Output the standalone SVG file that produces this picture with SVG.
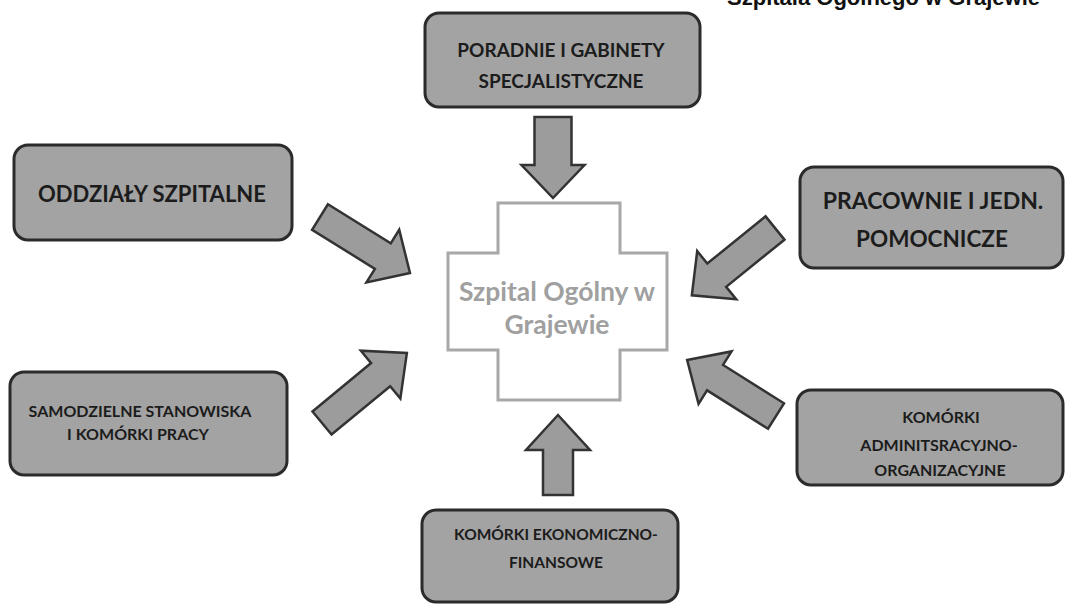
<svg xmlns="http://www.w3.org/2000/svg" width="1065" height="604" viewBox="0 0 1065 604">
<style>
.box{fill:#a3a3a3;stroke:#2b2b2b;stroke-width:3}
.t{font-family:Lato,"Open Sans",sans-serif;font-weight:bold;fill:#1c1c1c;text-anchor:middle}
.c{fill:#a0a0a0}
.arr{fill:#9c9c9c;stroke:#333333;stroke-width:2.5;stroke-linejoin:miter}
.title{font-family:"Liberation Sans",Arial,sans-serif;font-weight:bold;font-size:22px;fill:#111;text-anchor:end}
</style>
<rect width="1065" height="604" fill="#ffffff"/>
<text class="title" x="1040" y="5">Szpitala Ogólnego w Grajewie</text>

<g id="center">
<path d="M498,203 L620,203 L620,253 L667,253 L667,350 L620,350 L620,400 L498,400 L498,350 L448,350 L448,253 L498,253 Z" fill="#ffffff" stroke="#a8a8a8" stroke-width="3"/>
<text class="t c" x="557" y="301" font-size="26.5" style="fill:#a0a0a0">Szpital Ogólny w</text>
<text class="t c" x="557" y="334" font-size="26.5" style="fill:#a0a0a0">Grajewie</text>
</g>

<g id="poradnie">
<rect class="box" x="425" y="13" width="275" height="94" rx="14"/>
<text class="t" x="561" y="57" font-size="19">PORADNIE I GABINETY</text>
<text class="t" x="561" y="88" font-size="19">SPECJALISTYCZNE</text>
</g>

<g id="oddzialy">
<rect class="box" x="14" y="145" width="278" height="95" rx="14"/>
<text class="t" x="152" y="202" font-size="22">ODDZIAŁY SZPITALNE</text>
</g>

<g id="pracownie">
<rect class="box" x="800" y="167" width="263" height="101" rx="14"/>
<text class="t" x="933" y="209" font-size="23">PRACOWNIE I JEDN.</text>
<text class="t" x="932" y="247" font-size="22.5">POMOCNICZE</text>
</g>

<g id="samodzielne">
<rect class="box" x="10" y="372" width="277" height="103" rx="14"/>
<text class="t" x="140" y="417" font-size="16">SAMODZIELNE STANOWISKA</text>
<text class="t" x="138" y="440" font-size="16">I KOMÓRKI PRACY</text>
</g>

<g id="administracyjne">
<rect class="box" x="797" y="390" width="266" height="95" rx="14"/>
<text class="t" x="941" y="423" font-size="16">KOMÓRKI</text>
<text class="t" x="939" y="451" font-size="16">ADMINITSRACYJNO-</text>
<text class="t" x="940" y="476" font-size="16">ORGANIZACYJNE</text>
</g>

<g id="ekonomiczne">
<rect class="box" x="422" y="510" width="256" height="92" rx="14"/>
<text class="t" x="556" y="540" font-size="15.5">KOMÓRKI EKONOMICZNO-</text>
<text class="t" x="556" y="568" font-size="15.5">FINANSOWE</text>
</g>

<g id="connectors">
<path class="arr" transform="translate(553,117) rotate(90)" d="M0,-18.5 L48,-18.5 L48,-31.5 L81,0 L48,31.5 L48,18.5 L0,18.5 Z"/>
<path class="arr" transform="translate(558,495) rotate(-90)" d="M0,-15 L45,-15 L45,-32 L80,0 L45,32 L45,15 L0,15 Z"/>
<path class="arr" transform="translate(320,217) rotate(31.9)" d="M0,-15 L74,-15 L74,-31 L106,0 L74,31 L74,15 L0,15 Z"/>
<path class="arr" transform="translate(775,228) rotate(141)" d="M0,-15 L75,-15 L75,-31 L107,0 L75,31 L75,15 L0,15 Z"/>
<path class="arr" transform="translate(322,423) rotate(-39.5)" d="M0,-15 L76,-15 L76,-31 L110,0 L76,31 L76,15 L0,15 Z"/>
<path class="arr" transform="translate(776,416) rotate(-147.8)" d="M0,-15 L72,-15 L72,-31 L105,0 L72,31 L72,15 L0,15 Z"/>
</g>
</svg>
